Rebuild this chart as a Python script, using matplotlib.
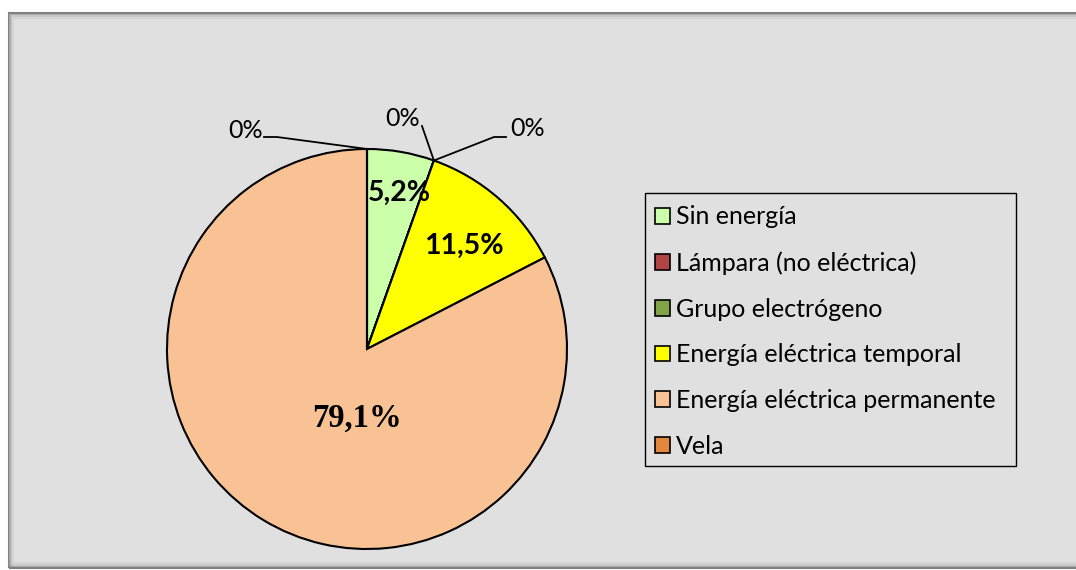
import matplotlib
matplotlib.use('Agg')
from matplotlib import pyplot as plt
from matplotlib.patches import Rectangle
import numpy as np

categorias = ['Sin energía', 'Lámpara (no eléctrica)', 'Grupo electrógeno',
              'Energía eléctrica temporal', 'Energía eléctrica permanente', 'Vela']
valores = [5.2, 0, 0, 11.5, 79.1, 0]
etiquetas = ['5,2%', '0%', '0%', '11,5%', '79,1%', '0%']
colores = ['#ccffaa', '#b04545', '#82a348', '#ffff00', '#f9c294', '#e3863e']

W, H = 1076, 570
fig = plt.figure(figsize=(W / 100, H / 100), dpi=100)
fig.patch.set_facecolor('white')
ax = fig.add_axes([0, 0, 1, 1])

# marco gris con bisel
ax.add_patch(Rectangle((8, 2), W, H - 15, facecolor='#e0e0e0', edgecolor='none', zorder=0))
for k, c in enumerate(['#808080', '#a8a8a8', '#c8c8c8', '#d4d4d4']):
    ax.add_patch(Rectangle((8.5 + k * 1.5, 2.5 + k * 1.5), W + 10, H - 15.5 - k * 3,
                           fill=False, edgecolor=c, lw=1.5, zorder=0.5))

cx, cy, r = 367, H - 349, 200
wedges, _ = ax.pie(valores, colors=colores, startangle=90, counterclock=False,
                   center=(cx, cy), radius=r, frame=True,
                   wedgeprops=dict(edgecolor='black', linewidth=1.5))
ax.set_xlim(0, W)
ax.set_ylim(0, H)
ax.set_aspect('equal')
ax.axis('off')

# etiquetas dentro de los sectores
dist = {0: 0.80, 3: 0.70}
for i, w in enumerate(wedges):
    if valores[i] == 0:
        continue
    ang = np.deg2rad((w.theta1 + w.theta2) / 2)
    if i == 4:
        x, y = cx - 10, cy - 69
        fam, sz = 'Liberation Serif', 23.5
    else:
        x = cx + dist[i] * r * np.cos(ang) + 5
        y = cy + dist[i] * r * np.sin(ang) - 2
        fam, sz = 'Lato', 20.5
    ax.text(x, y, etiquetas[i], ha='center', va='center', fontsize=sz,
            fontweight='bold', family=fam, zorder=5)

# etiquetas 0% con líneas guía (posiciones del original)
guia = {1: [(422, 126)], 2: [(494, 137), (506, 137)], 5: [(277, 137), (264, 137)]}
texto = {1: (403, 118), 2: (528, 128), 5: (246, 130)}
for i, pts in guia.items():
    ang = np.deg2rad(wedges[i].theta1)
    x0, y0 = cx + r * np.cos(ang), cy + r * np.sin(ang)
    xs = [x0] + [p[0] for p in pts]
    ys = [y0] + [H - p[1] for p in pts]
    ax.plot(xs, ys, color='black', lw=1.3, zorder=4)
    tx, ty = texto[i]
    ax.text(tx, H - ty, etiquetas[i], ha='center', va='center', fontsize=18,
            family='Lato', zorder=5)

# cuadro de la leyenda
ax.add_patch(Rectangle((645, H - 466), 1016 - 645, 466 - 193, facecolor='#e0e0e0',
                       edgecolor='black', lw=1.0, zorder=2))
leg = ax.legend(wedges, categorias, loc='upper left',
                bbox_to_anchor=(652 / W, 1 - 203 / H), bbox_transform=fig.transFigure,
                frameon=False, prop=dict(family='Lato', size=18),
                handlelength=0.6, handleheight=0.6, handletextpad=0.25,
                labelspacing=0.91, borderpad=0.1, borderaxespad=0)
leg.set_zorder(3)
for h in leg.legend_handles:
    h.set_edgecolor('black')
    h.set_linewidth(1.2)

plt.savefig('out.png', dpi=100, facecolor=fig.get_facecolor())
